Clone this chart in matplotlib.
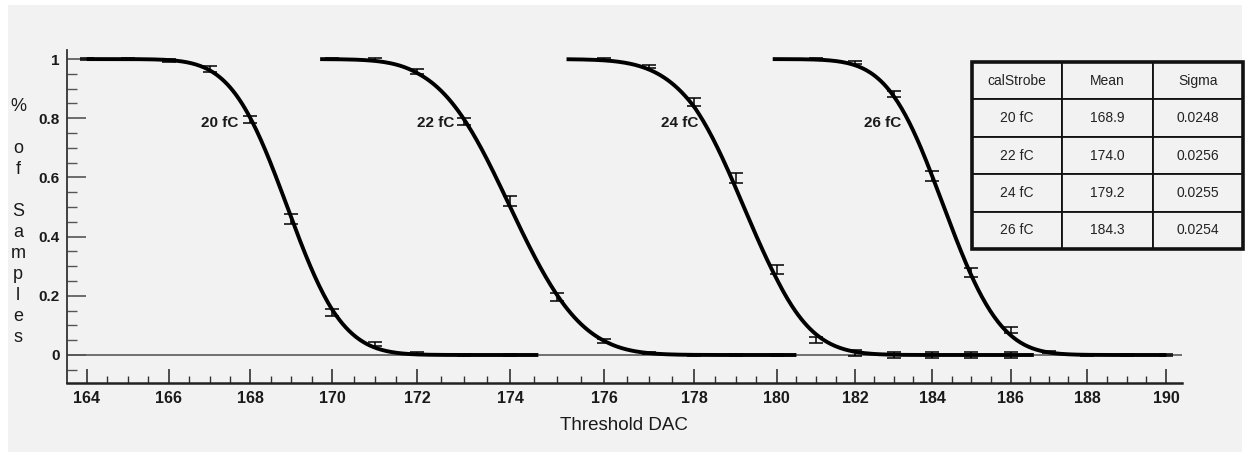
import math
import numpy as np
import matplotlib
matplotlib.use("Agg")
import matplotlib.pyplot as plt
from matplotlib.ticker import MultipleLocator
from matplotlib.patches import Rectangle

plt.rcParams['font.family'] = ['Liberation Sans', 'DejaVu Sans']

# measured points (Threshold DAC, fraction of samples, error)
x20 = [164, 165, 166, 167, 168, 169, 170, 171, 172, 173, 174]
y20 = [1.0, 1.0, 0.995, 0.967, 0.795, 0.46, 0.145, 0.038, 0.007, 0.0, 0.0]
e20 = [0.003, 0.003, 0.005, 0.01, 0.012, 0.016, 0.012, 0.007, 0.004, 0.002, 0.002]

x22 = [170, 171, 172, 173, 174, 175, 176, 177, 178, 179, 180]
y22 = [1.0, 0.998, 0.957, 0.79, 0.52, 0.196, 0.047, 0.006, 0.0, 0.0, 0.0]
e22 = [0.003, 0.004, 0.008, 0.012, 0.016, 0.012, 0.007, 0.004, 0.002, 0.002, 0.002]

x24 = [176, 177, 178, 179, 180, 181, 182, 183, 184, 185, 186]
y24 = [1.0, 0.975, 0.855, 0.598, 0.29, 0.052, 0.008, 0.0, 0.0, 0.0, 0.0]
e24 = [0.003, 0.006, 0.012, 0.016, 0.015, 0.01, 0.01, 0.01, 0.01, 0.01, 0.01]

x26 = [181, 182, 183, 184, 185, 186, 187, 188, 189, 190]
y26 = [1.0, 0.987, 0.882, 0.605, 0.28, 0.085, 0.01, 0.0, 0.0, 0.0]
e26 = [0.003, 0.005, 0.01, 0.016, 0.015, 0.009, 0.004, 0.002, 0.002, 0.002]

# fit results
strobe = ['20 fC', '22 fC', '24 fC', '26 fC']
fit_mean = [168.9, 174.0, 179.2, 184.3]
fit_sigma = [0.0248, 0.0256, 0.0255, 0.0254]
fit_width = [1.07, 1.2, 1.22, 1.13]      # width of the s-curve in DAC units
fit_start = [164.0, 169.7, 175.2, 179.9]
fit_end = [174.6, 180.5, 186.6, 190.0]

# the original screenshot has a slightly uneven DAC axis
warp_dac = [162, 164, 166, 168, 170, 172, 174, 176, 178, 180, 182, 184, 186, 188, 190, 192]
warp_px = [4.7, 86.7, 168.7, 250.3, 332.3, 417.3, 510, 604, 694.3, 776.7,
           855, 932, 1010.7, 1087.3, 1166, 1244]


def fwd(v):
    return np.interp(v, warp_dac, warp_px)


def inv(p):
    return np.interp(p, warp_px, warp_dac)


fig = plt.figure(figsize=(12.5, 4.57), dpi=100, facecolor='white')
fig.patches.append(Rectangle((0.0064, 0.011), 0.9872, 0.978, transform=fig.transFigure,
                             facecolor='#f2f2f2', edgecolor='none', zorder=-10))

ax = fig.add_axes([0.0534, 0.1626, 0.892, 0.728])
ax.set_facecolor('none')
ax.set_xscale('function', functions=(fwd, inv))
ax.set_xlim(163.51, 190.40)
ax.set_ylim(-0.0936, 1.0307)

ax.axhline(0, color='#4d4d4d', lw=1.1, zorder=1)

points = [(x20, y20, e20), (x22, y22, e22), (x24, y24, e24), (x26, y26, e26)]
for i, (xs, ys, es) in enumerate(points):
    xx = np.linspace(fit_start[i], fit_end[i], 300)
    yy = [0.5 * math.erfc((v - fit_mean[i]) / (fit_width[i] * math.sqrt(2))) for v in xx]
    ax.plot(xx, yy, color='black', lw=2.8, zorder=3, solid_capstyle='butt')
    ax.errorbar(xs, ys, yerr=es, fmt='none', ecolor='black', elinewidth=1.1,
                capsize=5, capthick=1.1, zorder=4)

label_x = [167.7, 172.8, 178.09, 183.2]
for i, s in enumerate(strobe):
    ax.text(label_x[i], 0.784, s, ha='right', va='center', fontsize=11,
            fontweight='bold', color='#1a1a1a')

for side in ['top', 'right']:
    ax.spines[side].set_visible(False)
ax.spines['left'].set_color('#333333')
ax.spines['left'].set_linewidth(1.3)
ax.spines['bottom'].set_color('#222222')
ax.spines['bottom'].set_linewidth(1.8)

ax.set_xticks(range(164, 191, 2))
ax.xaxis.set_minor_locator(MultipleLocator(0.5))
ax.set_yticks([0, 0.2, 0.4, 0.6, 0.8, 1])
ax.set_yticklabels(['0', '0.2', '0.4', '0.6', '0.8', '1'])
ax.yaxis.set_minor_locator(MultipleLocator(0.05))
ax.tick_params(axis='x', which='major', direction='in', length=10, width=1.2,
               color='#333333', pad=6, labelsize=11.5, labelcolor='#1a1a1a')
ax.tick_params(axis='x', which='minor', direction='in', length=5, width=1.0, color='#333333')
ax.tick_params(axis='y', which='major', direction='in', length=14, width=1.2,
               color='#555555', pad=5, labelsize=11, labelcolor='#1a1a1a')
ax.tick_params(axis='y', which='minor', direction='in', length=7, width=1.0, color='#555555')
for lab in ax.get_xticklabels() + ax.get_yticklabels():
    lab.set_fontweight('bold')

ax.set_xlabel('Threshold DAC', fontsize=13.5, color='#1a1a1a', labelpad=8)
fig.text(0.0144, 0.786, '\n'.join(['%', '', 'o', 'f', '', 'S', 'a', 'm', 'p', 'l', 'e', 's']),
         ha='center', va='top', fontsize=13, color='#1a1a1a', linespacing=1.31)

# fit summary table
tax = fig.add_axes([0.7776, 0.4551, 0.2168, 0.4092])
tax.axis('off')
cells = [[s, '%.1f' % m, '%.4f' % g] for s, m, g in zip(strobe, fit_mean, fit_sigma)]
tbl = tax.table(cellText=cells, colLabels=['calStrobe', 'Mean', 'Sigma'],
                cellLoc='center', bbox=[0, 0, 1, 1])
tbl.auto_set_font_size(False)
for (r, c), cell in tbl.get_celld().items():
    cell.set_facecolor('#f2f2f2')
    cell.set_edgecolor('#111111')
    cell.set_linewidth(1.3)
    cell.get_text().set_fontsize(10)
    cell.get_text().set_color('#222222')
tax.add_patch(Rectangle((0, 0), 1, 1, transform=tax.transAxes, fill=False,
                        edgecolor='#111111', lw=2.6, clip_on=False, zorder=10))

fig.savefig('out.png', dpi=100, facecolor=fig.get_facecolor())
